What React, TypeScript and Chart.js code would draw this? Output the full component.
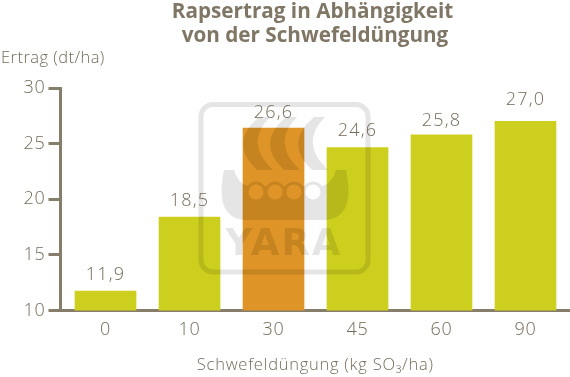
import React, { useEffect, useRef } from "react";
import { Chart, registerables } from "chart.js";

Chart.register(...registerables);

const titleLines = ["Rapsertrag in Abhängigkeit", "von der Schwefeldüngung"];
const yAxisLabel = "Ertrag (dt/ha)";
const xAxisLabel = "Schwefeldüngung (kg SO₃/ha)";
const categories = ["0", "10", "30", "45", "60", "90"];
const barValues = [11.75, 18.4, 26.4, 24.65, 25.8, 27.0];
const valueLabels = ["11,9", "18,5", "26,6", "24,6", "25,8", "27,0"];
const yTicks = [10, 15, 20, 25, 30];
const barColors = ["#cdcf1e", "#cdcf1e", "#de9426", "#cdcf1e", "#cdcf1e", "#cdcf1e"];
const watermarkText = "YARA";
const labelLift = [11, 11, 10, 12, 9, 16];

const FONT = "'Open Sans', sans-serif";
const INK = "#7f7666";
const LIGHT_INK = "#746b5a";
const AXIS = "#867d6b";

function buildLogo() {
  const c = document.createElement("canvas");
  c.width = 570;
  c.height = 377;
  const g = c.getContext("2d")!;
  g.fillStyle = "#000";
  g.strokeStyle = "#000";

  g.lineWidth = 5;
  g.beginPath();
  g.roundRect(201, 104.5, 167, 167.5, 12);
  g.stroke();

  // Sails
  [243, 270, 298].forEach((L) => {
    g.beginPath();
    g.moveTo(L + 16, 117);
    g.quadraticCurveTo(L - 15, 143, L + 14, 170);
    g.lineTo(L + 30, 170);
    g.quadraticCurveTo(L + 1, 143, L + 27, 117);
    g.closePath();
    g.fill();
  });

  // Hull
  g.beginPath();
  g.moveTo(224, 170);
  g.lineTo(234, 170);
  g.quadraticCurveTo(238, 184, 248, 186);
  g.lineTo(322, 186);
  g.quadraticCurveTo(332, 184, 336, 170);
  g.lineTo(346, 170);
  g.quadraticCurveTo(356, 218, 325, 220);
  g.lineTo(245, 220);
  g.quadraticCurveTo(214, 218, 224, 170);
  g.closePath();
  g.fill();
  [256, 275, 294, 313].forEach((x) => {
    g.beginPath();
    g.arc(x, 192, 10.5, 0, Math.PI * 2);
    g.fill();
  });
  g.globalCompositeOperation = "destination-out";
  [256, 275, 294, 313].forEach((x) => {
    g.beginPath();
    g.arc(x, 192, 7.5, 0, Math.PI * 2);
    g.fill();
  });
  g.globalCompositeOperation = "source-over";

  g.font = "bold 37px 'DejaVu Sans', sans-serif";
  (g as any).letterSpacing = "2px";
  g.textAlign = "center";
  g.textBaseline = "alphabetic";
  g.fillText(watermarkText, 284, 255);
  return c;
}

const decorations = {
  id: "decorations",
  beforeDraw(chart: any) {
    chart.ctx.letterSpacing = "0.75px";
  },
  afterDraw(chart: any) {
    const { ctx } = chart;
    const meta = chart.getDatasetMeta(0);
    ctx.save();

    ctx.textBaseline = "alphabetic";
    ctx.textAlign = "center";
    ctx.fillStyle = INK;
    ctx.letterSpacing = "0px";
    ctx.font = `bold 20.7px ${FONT}`;
    ctx.fillText(titleLines[0], 312.5, 18);
    ctx.fillText(titleLines[1], 315, 42);
    ctx.textAlign = "left";
    ctx.fillStyle = LIGHT_INK;
    ctx.letterSpacing = "0.45px";
    ctx.font = `300 16.5px ${FONT}`;
    ctx.fillText(yAxisLabel, 1, 63);

    ctx.globalAlpha = 0.1;
    ctx.drawImage(buildLogo(), 0, 0);
    ctx.globalAlpha = 1;

    ctx.fillStyle = LIGHT_INK;
    ctx.letterSpacing = "1.2px";
    ctx.font = `300 18px ${FONT}`;
    ctx.textAlign = "center";
    meta.data.forEach((bar: any, i: number) => {
      ctx.fillText(valueLabels[i], bar.x, bar.y - labelLift[i]);
    });
    ctx.restore();
  },
};

export default function App() {
  const ref = useRef<HTMLCanvasElement>(null);
  useEffect(() => {
    const chart = new Chart(ref.current!, {
      type: "bar",
      data: {
        datasets: [
          {
            data: barValues.map((y, x) => ({ x, y })),
            backgroundColor: barColors,
            barThickness: 61,
          },
        ],
      },
      options: {
        animation: false,
        responsive: false,
        layout: { padding: { top: 88, left: 0, right: 0, bottom: 2 } },
        plugins: { legend: { display: false }, tooltip: { enabled: false } },
        scales: {
          x: {
            type: "linear",
            offset: false,
            min: -0.536,
            max: 5.53,
            afterBuildTicks: (axis: any) => {
              axis.ticks = categories.map((_, value) => ({ value }));
            },
            grid: { display: false, drawTicks: false },
            border: { color: AXIS, width: 3 },
            ticks: {
              color: LIGHT_INK,
              font: { family: FONT, size: 18, weight: 300 },
              padding: 8,
              autoSkip: false,
              maxRotation: 0,
              callback: (value: number) => categories[value],
            },
            title: {
              display: true,
              text: xAxisLabel,
              color: LIGHT_INK,
              font: { family: FONT, size: 16.5, weight: 300 },
              padding: { top: 7, bottom: 0 },
            },
          },
          y: {
            min: 10,
            max: 30,
            afterBuildTicks: (axis: any) => {
              axis.ticks = yTicks.map((value) => ({ value }));
            },
            afterFit: (axis: any) => {
              axis.width = 60.5;
            },
            grid: { drawOnChartArea: false, drawTicks: true, tickLength: 12, tickColor: AXIS, tickWidth: 3 },
            border: { color: AXIS, width: 3 },
            ticks: { color: LIGHT_INK, font: { family: FONT, size: 18, weight: 300 }, padding: 3 },
          },
        },
      },
      plugins: [decorations],
    } as any);
    return () => chart.destroy();
  }, []);
  return (
    <canvas
      ref={ref}
      width={570}
      height={377}
      style={{ position: "absolute", left: 0, top: 0, display: "block" }}
    />
  );
}
